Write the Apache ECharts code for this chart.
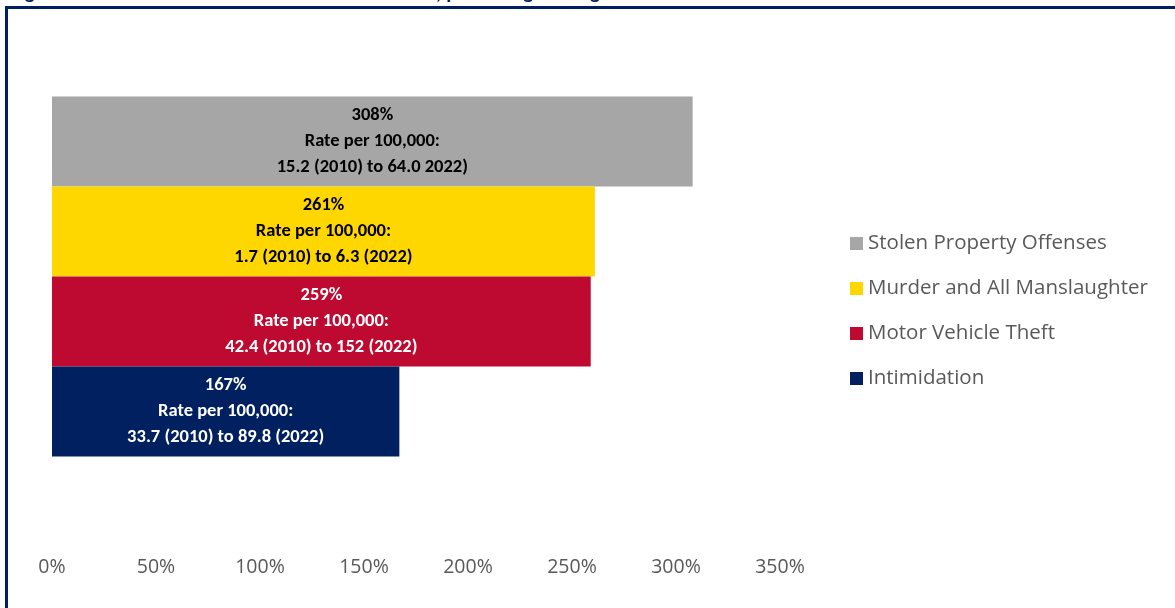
<!DOCTYPE html>
<html lang="en">
<head>
    <meta charset="UTF-8">
    <title>Percentage change in offense rates, 2010 to 2022</title>
    <script src="https://cdn.jsdelivr.net/npm/echarts/dist/echarts.min.js"></script>
    <style>
        body { margin: 0; padding: 0; background: #ffffff; }
        #chart { width: 1175px; height: 608px; }
    </style>
</head>
<body>
<div id="chart"></div>
<script>
    // data
    const offenses = ["Stolen Property Offenses", "Murder and All Manslaughter", "Motor Vehicle Theft", "Intimidation"];
    const pctChange = [308, 261, 259, 167];
    const rateNotes = [
        "15.2 (2010) to 64.0 2022)",
        "1.7 (2010) to 6.3 (2022)",
        "42.4 (2010) to 152 (2022)",
        "33.7 (2010) to 89.8 (2022)"
    ];
    const barColors = ["#A6A6A6", "#FFD700", "#BE0A30", "#002060"];
    const labelColors = ["#000000", "#000000", "#ffffff", "#ffffff"];
    const xTicks = [0, 50, 100, 150, 200, 250, 300, 350];

    const chart = echarts.init(document.getElementById("chart"));
    const font = "Calibri, Carlito, 'Open Sans', sans-serif";
    const wideFont = "'Open Sans', sans-serif";

    // first series is drawn on top
    const series = offenses.map((name, i) => ({
        name: name,
        type: "bar",
        barWidth: 90,
        barGap: "0%",
        data: [pctChange[i]],
        itemStyle: { color: barColors[i] },
        label: {
            show: true,
            position: "inside",
            color: labelColors[i],
            fontFamily: font,
            fontWeight: "bold",
            fontSize: 18.5,
            lineHeight: 26,
            formatter: () => pctChange[i] + "%\nRate per 100,000:\n" + rateNotes[i]
        },
        emphasis: { disabled: true }
    }));

    chart.setOption({
        animation: false,
        graphic: [
            {
                type: "rect",
                shape: { x: 6.5, y: 7.5, width: 1400, height: 800 },
                style: { fill: "none", stroke: "#002060", lineWidth: 3 }
            },
            {
                type: "text",
                left: 10,
                top: -17,
                style: {
                    text: "Figure 4: Crime Rate Increases from 2010 to 2022, percentage change",
                    fill: "#002060",
                    font: "bold 21px " + font
                }
            }
        ],
        legend: {
            orient: "vertical",
            left: 845,
            top: 228,
            itemWidth: 13,
            itemHeight: 13,
            itemGap: 24,
            icon: "rect",
            data: offenses,
            textStyle: { color: "#595959", fontFamily: wideFont, fontSize: 20.5 }
        },
        grid: { left: 52, width: 728, top: 0, bottom: 55, containLabel: false },
        xAxis: {
            type: "value",
            min: xTicks[0],
            max: xTicks[xTicks.length - 1],
            interval: 50,
            axisLine: { show: false },
            axisTick: { show: false },
            splitLine: { show: false },
            axisLabel: {
                color: "#595959",
                fontFamily: wideFont,
                fontSize: 19.5,
                margin: 4,
                formatter: "{value}%"
            }
        },
        yAxis: {
            type: "category",
            data: ["2010 to 2022"],
            show: false
        },
        series: series
    });
</script>
</body>
</html>
